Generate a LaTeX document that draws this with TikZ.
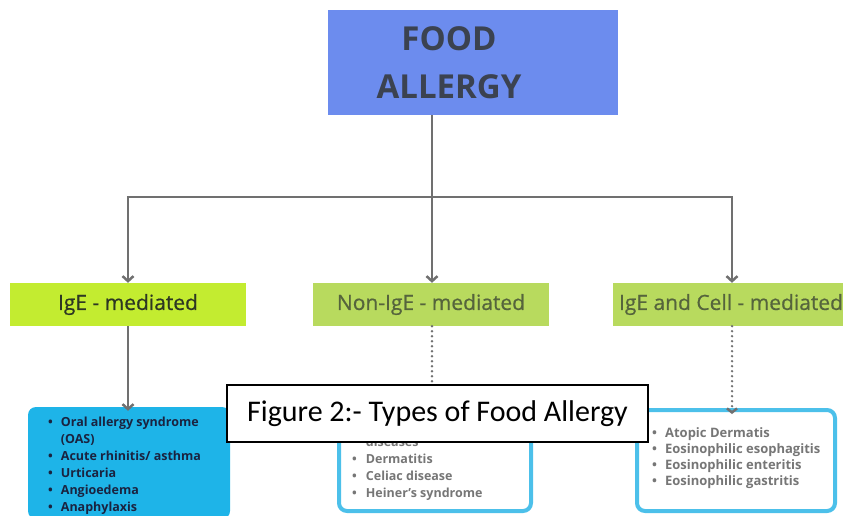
\documentclass[tikz,border=0pt]{standalone}
\usepackage{fontspec}
\setmainfont{Open Sans}
\newfontfamily\capfont{Carlito}
\newfontface\labfont{Open Sans}[FakeBold=0.6]
\usetikzlibrary{arrows.meta}
\definecolor{topblue}{RGB}{108,140,238}
\definecolor{titletxt}{RGB}{59,66,80}
\definecolor{lime}{RGB}{195,236,48}
\definecolor{olive}{RGB}{184,218,94}
\definecolor{igetxt}{RGB}{45,55,35}
\definecolor{oltxt}{RGB}{85,100,60}
\definecolor{cyanfill}{RGB}{30,180,232}
\definecolor{cyanline}{RGB}{76,192,234}
\definecolor{linegray}{RGB}{112,112,112}
\definecolor{navytxt}{RGB}{26,35,64}
\definecolor{graytxt}{RGB}{118,118,118}
\tikzset{
  conn/.style={draw=linegray, line width=2.5pt},
  arr/.style={conn, -{Straight Barb[length=5pt,width=11pt,line width=2.5pt]}},
  dotarr/.style={draw=linegray, line width=2.6pt, line cap=round, dash pattern=on 0pt off 5pt,
     -{Straight Barb[length=4pt,width=10pt,line width=2.5pt]}},
  greenbox/.style={minimum width=236pt, minimum height=43pt, inner sep=0pt,
     font=\labfont\fontsize{21}{24}\selectfont},
  listtxt/.style={anchor=base west, inner sep=0pt, font=\bfseries\fontsize{12.5}{17}\selectfont},
}
\begin{document}
\begin{tikzpicture}[x=1pt,y=-1pt]
\useasboundingbox (0,0) rectangle (843,515);
% top box
\node[fill=topblue, minimum width=290pt, minimum height=105pt, inner sep=0pt] (top) at (473,62.5) {};
\node[text=titletxt, font=\bfseries\fontsize{33}{36}\selectfont, inner sep=0pt] (t1) at (449,38.5) {FOOD};
\node[text=titletxt, font=\bfseries\fontsize{33}{36}\selectfont, inner sep=0pt] (t2) at (449,87) {ALLERGY};
% green boxes
\node[greenbox, fill=lime, text=igetxt] (ige) at (128,304.5) {IgE - mediated};
\node[greenbox, fill=olive, text=oltxt] (non) at (431,304.5) {Non-IgE - mediated};
\node[greenbox, fill=olive, text=oltxt] (cell) at (731,304.5) {IgE and Cell - mediated};
% connectors
\coordinate (jl) at (128,197);
\coordinate (jm) at (432,197);
\coordinate (jr) at (732,197);
\draw[conn] (jm |- top.south) -- (jm);
\draw[conn] ([xshift=-1.25pt]jl) -- ([xshift=1.25pt]jr);
\draw[arr] (jl) -- (jl |- ige.north);
\draw[arr] (jm) -- (jm |- non.north);
\draw[arr] (jr) -- (jr |- cell.north);
% bottom boxes
\node[fill=cyanfill, rounded corners=8pt, minimum width=202pt, minimum height=112pt, inner sep=0pt] (bl) at (129,463) {};
\node[draw=cyanline, line width=4pt, fill=white, rounded corners=8pt, minimum width=192pt, minimum height=101pt, inner sep=0pt] (bm) at (435,460.5) {};
\node[draw=cyanline, line width=4pt, fill=white, rounded corners=8pt, minimum width=198pt, minimum height=101pt, inner sep=0pt] (br) at (736,460.5) {};
\draw[arr] (jl |- ige.south) -- ([yshift=-4pt]jl |- bl.north);
\draw[dotarr] (jm |- non.south) -- ([yshift=-6pt]jm |- bm.north);
\draw[dotarr] (jr |- cell.south) -- ([yshift=-6pt]jr |- br.north);
% lists
\node[listtxt, text=navytxt] (ll) at (48,426) {\begin{tabular}[t]{@{}l@{\hspace{8pt}}l@{}}
•&Oral allergy syndrome\\
 &(OAS)\\
•&Acute rhinitis/ asthma\\
•&Urticaria\\
•&Angioedema\\
•&Anaphylaxis
\end{tabular}};
\node[listtxt, text=graytxt] (ml) at (352,446) {\begin{tabular}[t]{@{}l@{\hspace{9pt}}l@{}}
 &diseases\\
•&Dermatitis\\
•&Celiac disease\\
•&Heiner's syndrome
\end{tabular}};
\node[listtxt, text=graytxt, font=\bfseries\fontsize{13}{16}\selectfont] (rl) at (652,437) {\begin{tabular}[t]{@{}l@{\hspace{8pt}}l@{}}
•&Atopic Dermatis\\
•&Eosinophilic esophagitis\\
•&Eosinophilic enteritis\\
•&Eosinophilic gastritis
\end{tabular}};
% caption
\node[draw=black, line width=1.2pt, fill=white, minimum width=421pt, minimum height=57pt, inner sep=0pt,
  font=\capfont\fontsize{30}{33}\selectfont] (cap) at (437.5,413.5) {Figure 2:- Types of Food Allergy};
\end{tikzpicture}
\end{document}
